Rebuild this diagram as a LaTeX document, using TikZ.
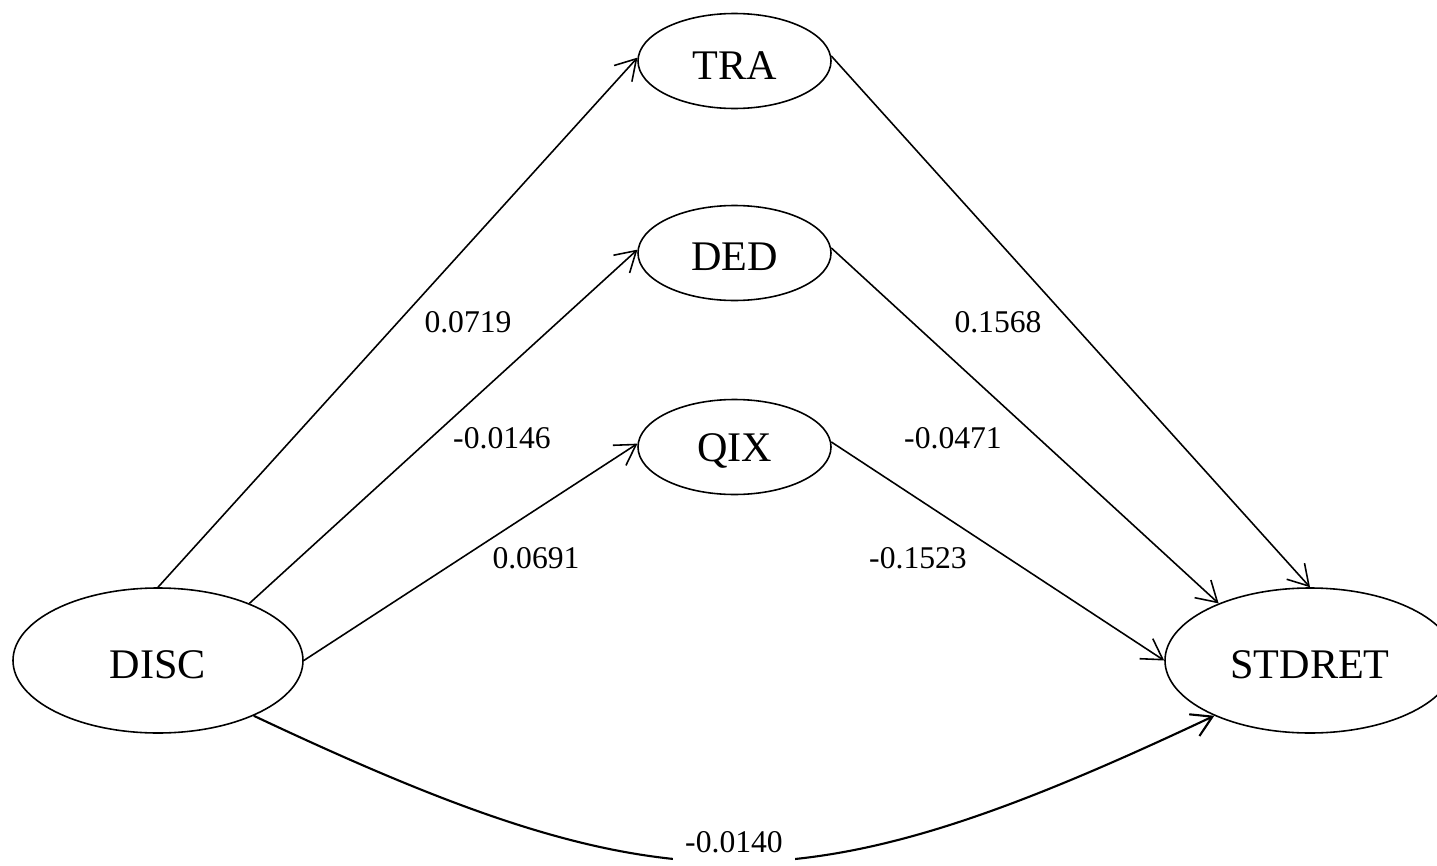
\documentclass[tikz,border=0pt]{standalone}
\usepackage{fontspec}
\setmainfont{Liberation Serif}
\usetikzlibrary{shapes.geometric,arrows.meta}
\tikzset{
  var/.style={draw, ellipse, line width=0.45pt, inner sep=0pt, font=\fontsize{12}{14}\selectfont},
  small/.style={var, minimum width=1.93cm, minimum height=0.95cm},
  big/.style={var, minimum width=2.9cm, minimum height=1.45cm},
  path/.style={line width=0.45pt, -{Straight Barb[length=2mm,width=2.4mm]}},
  coef/.style={font=\fontsize{9}{11}\selectfont, inner sep=0pt}
}
\newcommand{\lowtxt}[1]{\vphantom{#1}\raisebox{-1.2pt}[0pt][0pt]{#1}}
\begin{document}
\begin{tikzpicture}
\useasboundingbox (0,0) rectangle (14.37,8.65);
\clip (0,0) rectangle (14.37,8.65);
\node[small] (TRA) at (7.345,8.04) {\lowtxt{TRA}};
\node[small] (DED) at (7.345,6.12) {\lowtxt{DED}};
\node[small] (QIX) at (7.345,4.18) {\lowtxt{QIX}};
\node[big] (DISC) at (1.58,2.045) {\lowtxt{DISC}};
\node[big] (STDRET) at (13.10,2.045) {\lowtxt{STDRET}};

\draw[path] (DISC.north) -- (TRA.178);
\draw[path] (DISC.32) -- (DED.178);
\draw[path] (DISC.east) -- (QIX.178);
\draw[path] (TRA.3) -- (STDRET.north);
\draw[path] (DED.3) -- (STDRET.148);
\draw[path] (QIX.3) -- (STDRET.west);
\draw[path, line width=0.6pt] (DISC.-30) .. controls +(4.14,-1.95) and +(-4.14,-1.95) .. (STDRET.-150);

\node[coef] (l1) at (4.68,5.43) {0.0719};
\node[coef] (l2) at (5.02,4.27) {-0.0146};
\node[coef] (l3) at (5.36,3.07) {0.0691};
\node[coef] (l4) at (9.98,5.43) {0.1568};
\node[coef] (l5) at (9.53,4.27) {-0.0471};
\node[coef] (l6) at (9.18,3.07) {-0.1523};
\node[coef, fill=white, inner xsep=1.2mm, inner ysep=1.4mm] (l7) at (7.34,0.23) {-0.0140};
\end{tikzpicture}
\end{document}
